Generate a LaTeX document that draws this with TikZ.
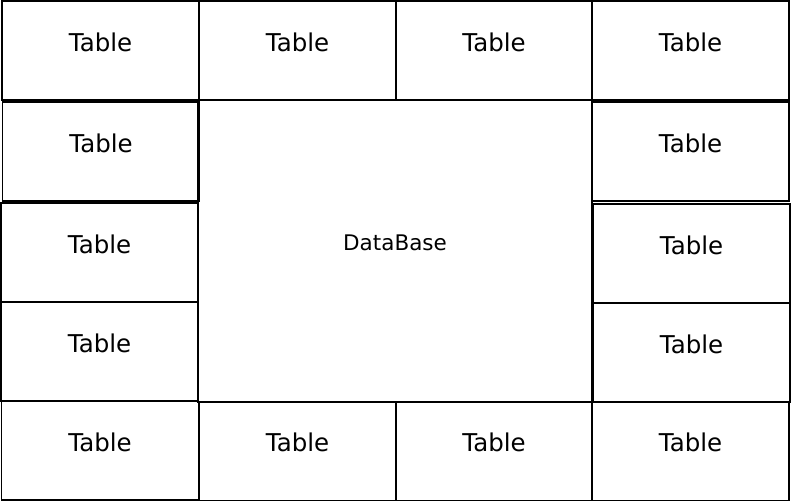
\documentclass[tikz,border=0pt]{standalone}
\usepackage{fontspec}
\setmainfont{DejaVu Sans}
\begin{document}
\begin{tikzpicture}[x=1pt,y=-1pt,
  tbl/.style={draw=black, line width=1.6pt, minimum width=197pt, minimum height=99pt,
    inner sep=0pt, outer sep=0pt,
    label={[anchor=center, yshift=-41pt, font=\fontsize{24.5}{28}\selectfont]north:Table}},
  db/.style={draw=black, line width=1.6pt, minimum width=394pt, minimum height=302pt,
    inner sep=0pt}]
\useasboundingbox (0,0) rectangle (791,502);
\fill[white] (0,0) rectangle (791,502);
% central database area
\node[db] (db) at (395,251) {};
\node at (395,243) {\fontsize{21.5}{25}\selectfont DataBase};
% top row
\node[tbl] (t1) at (100.5,50.5) {};
\node[tbl] (t2) at (297.5,50.5) {};
\node[tbl] (t3) at (494,50.5) {};
\node[tbl] (t4) at (690.5,50.5) {};
% left column
\node[tbl] (l2) at (101,151.5) {};
\node[tbl] (l3) at (99.5,252.5) {};
\node[tbl] (l4) at (99.5,351.5) {};
\node[tbl] (l5) at (100,450.5) {};
% right column
\node[tbl] (r2) at (690.5,151.5) {};
\node[tbl] (r3) at (691.5,253.5) {};
\node[tbl] (r4) at (691.5,352.5) {};
\node[tbl] (r5) at (690.5,451) {};
% bottom row
\node[tbl] (b2) at (297.5,451) {};
\node[tbl] (b3) at (494,451) {};
\end{tikzpicture}
\end{document}
